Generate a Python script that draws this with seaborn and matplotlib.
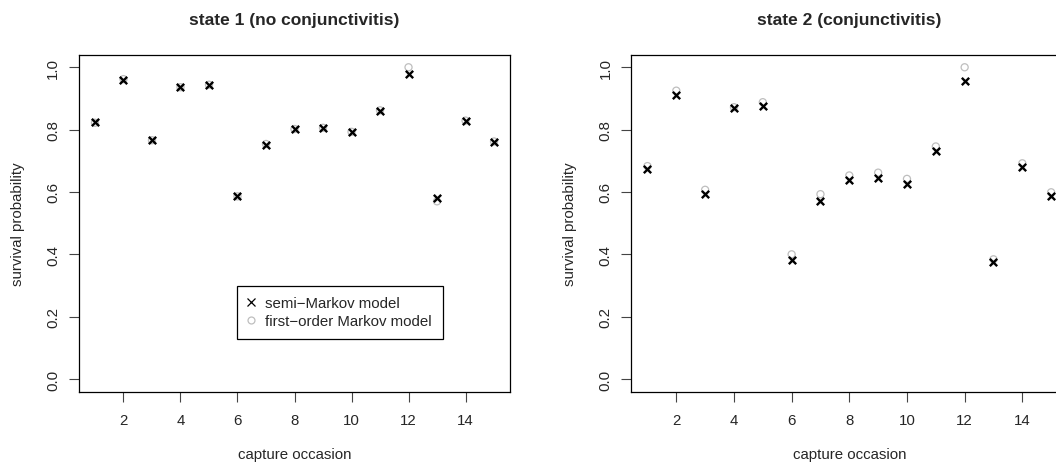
import seaborn as sns
import matplotlib.pyplot as plt
from matplotlib.lines import Line2D
import numpy as np

# capture occasions
occasion = np.arange(1, 16)

# state 1 (no conjunctivitis)
semi_s1 = [0.824, 0.958, 0.768, 0.938, 0.942, 0.586, 0.751, 0.801,
           0.805, 0.793, 0.861, 0.980, 0.580, 0.828, 0.761]
markov_s1 = [0.822, 0.962, 0.766, 0.936, 0.944, 0.586, 0.754, 0.802,
             0.806, 0.793, 0.862, 1.000, 0.570, 0.829, 0.762]

# state 2 (conjunctivitis)
semi_s2 = [0.673, 0.912, 0.593, 0.869, 0.877, 0.383, 0.571, 0.638,
           0.644, 0.627, 0.731, 0.955, 0.376, 0.680, 0.586]
markov_s2 = [0.683, 0.925, 0.607, 0.872, 0.888, 0.400, 0.593, 0.653,
             0.662, 0.642, 0.746, 1.000, 0.384, 0.692, 0.599]

titles = ["state 1 (no conjunctivitis)", "state 2 (conjunctivitis)"]
xticks = [2, 4, 6, 8, 10, 12, 14]
yticks = [0.0, 0.2, 0.4, 0.6, 0.8, 1.0]

sns.set_style("ticks")
plt.rcParams['font.family'] = ['Liberation Sans', 'DejaVu Sans']

W, H = 1056, 464
fig = plt.figure(figsize=(W / 100, H / 100), dpi=100)
ax1 = fig.add_axes([79 / W, (H - 392.5) / H, 431 / W, 336.7 / H])
ax2 = fig.add_axes([631.3 / W, (H - 392.5) / H, 436 / W, 336.7 / H])

grey = "#bebebe"
fs = 10.8
for ax, semi, markov, title in [(ax1, semi_s1, markov_s1, titles[0]),
                                (ax2, semi_s2, markov_s2, titles[1])]:
    sns.scatterplot(x=occasion, y=markov, ax=ax, marker="o", s=26,
                    color=grey, facecolor="none", edgecolor=grey,
                    linewidth=0.9, zorder=2)
    sns.scatterplot(x=occasion, y=semi, ax=ax, marker="x", s=28,
                    color="black", linewidth=1.7, zorder=3)
    ax.set_xlim(0.44, 15.56)
    ax.set_ylim(-0.04, 1.04)
    ax.set_xticks(xticks)
    ax.set_yticks(yticks)
    ax.set_yticklabels([f"{v:.1f}" for v in yticks], rotation=90, va="center")
    ax.tick_params(axis="both", length=7, width=0.8, labelsize=fs, color="#444444")
    ax.tick_params(axis="x", pad=8.5)
    ax.tick_params(axis="y", pad=6.5)
    for sp in ax.spines.values():
        sp.set_visible(True)
        sp.set_linewidth(0.9)
        sp.set_color("black")
    ax.set_title(title, fontsize=12.5, fontweight="bold", pad=22)
    ax.set_xlabel("capture occasion", fontsize=fs)
    ax.set_ylabel("survival probability", fontsize=fs)
    ax.xaxis.set_label_coords(0.5, -0.165)
    ax.yaxis.set_label_coords(-0.125, 0.5)

handles = [
    Line2D([], [], marker="x", color="black", lw=0, markersize=6, mew=0.9),
    Line2D([], [], marker="o", color=grey, mfc="none", lw=0, markersize=5, mew=0.9),
]
leg = ax1.legend(handles, ["semi\u2212Markov model", "first\u2212order Markov model"],
                 loc="upper left", bbox_to_anchor=(6, 0.3),
                 bbox_transform=ax1.transData, borderaxespad=0,
                 fancybox=False, framealpha=1, edgecolor="black",
                 fontsize=fs, handlelength=0.32, handletextpad=0.8,
                 borderpad=0.73, labelspacing=0.23)
leg.get_frame().set_linewidth(0.9)

fig.savefig("out.png", dpi=100)
